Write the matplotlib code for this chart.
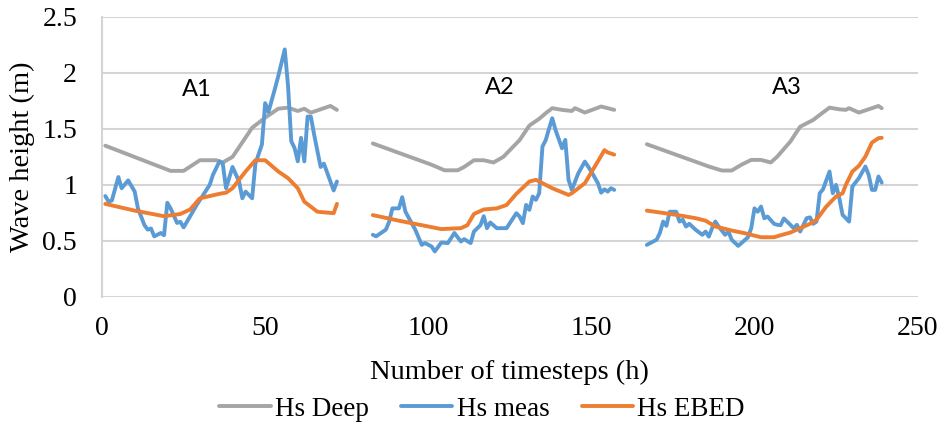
import numpy as np
import matplotlib
matplotlib.use("Agg")
import matplotlib.pyplot as plt

# --- data (timestep in h, wave height in m) ---
# three storm windows A1, A2, A3; a None marks the gap between them
deep_t = [1, 21, 25, 30, 35, 37, 40, 46, 50, 54, 57, 60, 62, 64, 70, 72, None,
          83, 101, 105, 109, 111, 114, 117, 120, 123, 128, 131, 134, 136, 138, 141, 144, 145, 148, 153, 157, None,
          167, 186, 190, 193, 196, 199, 202, 205, 207, 211, 214, 218, 220, 223, 226, 228, 229, 232, 235, 238, 239]
deep_hs = [1.35, 1.125, 1.125, 1.22, 1.22, 1.20, 1.25, 1.51, 1.60, 1.68, 1.69, 1.66, 1.68, 1.645, 1.705, 1.67, None,
           1.37, 1.18, 1.13, 1.13, 1.16, 1.22, 1.22, 1.20, 1.25, 1.40, 1.53, 1.59, 1.64, 1.685, 1.67, 1.66, 1.685, 1.646, 1.70, 1.67, None,
           1.363, 1.164, 1.128, 1.128, 1.18, 1.223, 1.223, 1.20, 1.253, 1.387, 1.52, 1.58, 1.625, 1.69, 1.675, 1.67, 1.685, 1.646, 1.675, 1.705, 1.685]

meas_t = [1, 2, 3, 5, 6, 8, 10, 11, 13, 14, 15, 16, 18, 19, 20, 21, 23, 24, 25, 27, 29, 31, 33, 34, 36, 37, 38,
          40, 42, 43, 44, 46, 47, 49, 50, 51, 53, 54, 56, 57, 58, 59, 60, 61, 62, 63, 64, 65, 67, 68, 70, 71, 72, None,
          83, 84, 87, 88, 89, 91, 92, 93, 96, 98, 99, 101, 102, 104, 106, 108, 110, 111, 113, 114, 116, 117, 118, 119,
          121, 124, 125, 127, 128, 129, 130, 131, 132, 133, 134, 135, 136, 137, 138, 139, 141, 142, 143, 144, 146, 148,
          150, 152, 153, 154, 155, 156, 157, None,
          167, 169, 170, 171, 172, 173, 174, 176, 177, 178, 179, 180, 182, 184, 185, 186, 187, 188, 189, 191, 192, 193,
          195, 196, 198, 199, 200, 201, 202, 203, 204, 206, 207, 208, 209, 211, 212, 213, 214, 216, 217, 218, 219, 220,
          221, 223, 224, 225, 226, 227, 229, 230, 232, 234, 235, 236, 237, 238, 239]
meas_hs = [0.90, 0.85, 0.86, 1.07, 0.97, 1.04, 0.94, 0.79, 0.64, 0.60, 0.61, 0.54, 0.57, 0.55, 0.84, 0.79, 0.66, 0.67, 0.62, 0.72, 0.82, 0.91, 1.0, 1.09, 1.21, 1.19, 0.97,
           1.16, 1.03, 0.88, 0.94, 0.88, 1.19, 1.36, 1.73, 1.65, 1.86, 1.97, 2.21, 1.89, 1.39, 1.33, 1.21, 1.42, 1.21, 1.61, 1.61, 1.45, 1.16, 1.19, 1.03, 0.95, 1.03, None,
           0.554, 0.54, 0.60, 0.67, 0.79, 0.79, 0.89, 0.76, 0.60, 0.464, 0.48, 0.45, 0.405, 0.485, 0.48, 0.57, 0.494, 0.515, 0.48, 0.583, 0.64, 0.72, 0.613, 0.664,
           0.613, 0.613, 0.658, 0.747, 0.717, 0.658, 0.821, 0.777, 0.896, 0.866, 0.925, 1.342, 1.40, 1.50, 1.595, 1.491, 1.327, 1.402, 1.045, 0.955, 1.104, 1.208,
           1.119, 1.015, 0.93, 0.96, 0.94, 0.97, 0.955, None,
           0.464, 0.494, 0.51, 0.57, 0.672, 0.634, 0.76, 0.76, 0.672, 0.688, 0.628, 0.652, 0.598, 0.554, 0.583, 0.538, 0.613, 0.672, 0.628, 0.554, 0.583, 0.51,
           0.455, 0.48, 0.532, 0.613, 0.79, 0.76, 0.806, 0.702, 0.717, 0.652, 0.643, 0.64, 0.70, 0.643, 0.613, 0.643, 0.583, 0.702, 0.71, 0.652, 0.672, 0.925,
           0.96, 1.119, 0.925, 1.0, 0.881, 0.732, 0.672, 0.985, 1.06, 1.164, 1.09, 0.955, 0.955, 1.075, 1.02]

ebed_t = [1, 10, 19, 24, 27, 30, 36, 38, 40, 44, 47, 50, 54, 57, 60, 62, 66, 71, 72, None,
          83, 91, 99, 104, 110, 112, 114, 117, 121, 124, 127, 131, 133, 138, 143, 144, 148, 152, 154, 155, 157, None,
          167, 176, 182, 185, 188, 193, 197, 202, 206, 208, 211, 214, 217, 219, 222, 225, 227, 228, 230, 232, 234, 236, 238, 239]
ebed_hs = [0.83, 0.77, 0.72, 0.74, 0.78, 0.88, 0.92, 0.93, 0.97, 1.12, 1.22, 1.22, 1.12, 1.06, 0.97, 0.85, 0.76, 0.747, 0.83, None,
           0.73, 0.68, 0.634, 0.605, 0.613, 0.64, 0.74, 0.78, 0.79, 0.82, 0.92, 1.03, 1.045, 0.97, 0.91, 0.925, 1.015, 1.21, 1.31, 1.29, 1.27, None,
           0.77, 0.732, 0.702, 0.68, 0.628, 0.592, 0.568, 0.532, 0.532, 0.55, 0.574, 0.613, 0.652, 0.688, 0.806, 0.896, 0.925, 1.0, 1.119, 1.17, 1.253, 1.378, 1.417, 1.42]

labels = ["A1", "A2", "A3"]
label_t = [29, 122, 210]
label_hs = [1.85, 1.87, 1.87]


def arr(v):
    return np.array([np.nan if x is None else x for x in v], dtype=float)


serif = ["Liberation Serif", "DejaVu Serif"]
lw = 2.8

fig = plt.figure(figsize=(9.45, 4.24), dpi=100)
ax = fig.add_axes([0.108, 0.30, 0.863, 0.66])

ax.plot(arr(deep_t), arr(deep_hs), color="#A5A5A5", lw=lw, label="Hs Deep", solid_capstyle="round", solid_joinstyle="round")
ax.plot(arr(meas_t), arr(meas_hs), color="#5B9BD5", lw=lw, label="Hs meas", solid_capstyle="round", solid_joinstyle="round")
ax.plot(arr(ebed_t), arr(ebed_hs), color="#ED7D31", lw=lw, label="Hs EBED", solid_capstyle="round", solid_joinstyle="round")

for lab, t, h in zip(labels, label_t, label_hs):
    ax.text(t, h, lab, ha="center", va="center", fontsize=17, family="Lato")

ax.set_xlim(0, 250)
ax.set_ylim(0, 2.5)
ax.set_xticks([0, 50, 100, 150, 200, 250])
ax.set_yticks([0, 0.5, 1, 1.5, 2, 2.5])
ax.set_yticklabels(["0", "0.5", "1", "1.5", "2", "2.5"])
ax.yaxis.grid(True, color="#D4D4D4", lw=1.5)
ax.set_axisbelow(True)
for s in ["top", "right", "bottom"]:
    ax.spines[s].set_visible(False)
ax.spines["left"].set_color("#D4D4D4")
ax.spines["left"].set_linewidth(1.5)
ax.tick_params(length=0, labelsize=20)
ax.tick_params(axis="x", pad=14)
ax.tick_params(axis="y", pad=18)
for lbl in ax.get_xticklabels() + ax.get_yticklabels():
    lbl.set_family(serif)

ax.set_xlabel("Number of timesteps (h)", fontsize=20.5, family=serif, va="center")
ax.xaxis.set_label_coords(0.5, -0.27)
ax.set_ylabel("Wave height (m)", fontsize=20.5, family=serif, va="center")
ax.yaxis.set_label_coords(-0.098, 0.5)

fig.legend(loc="center", bbox_to_anchor=(0.51, 0.035), ncol=3, frameon=False,
           prop={"family": serif, "size": 19.5}, handlelength=1.9, columnspacing=1.2, handletextpad=0.15)

fig.savefig("out.png", dpi=100)
